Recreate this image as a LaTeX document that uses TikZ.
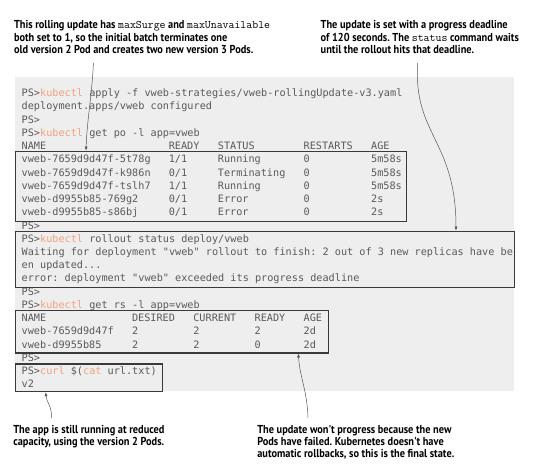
\documentclass[tikz,border=0pt]{standalone}
\usepackage{fontspec}
\usetikzlibrary{arrows.meta}
\newfontfamily\consfont{DejaVu Sans Mono}
\newfontfamily\callfont[FakeStretch=0.9]{PT Sans}
\definecolor{panelbg}{HTML}{EDEEED}
\definecolor{ctext}{HTML}{5A5A5A}
\definecolor{kcol}{HTML}{F2A27F}
\definecolor{boxcol}{HTML}{3A3A3A}
\definecolor{linecol}{HTML}{555555}
\frenchspacing
\tikzset{
  mono/.style={anchor=base west, inner sep=0pt, outer sep=0pt, font=\consfont\fontsize{10.2}{12}\selectfont, text=ctext},
  call/.style={anchor=base west, inner sep=0pt, outer sep=0pt, font=\callfont\bfseries\fontsize{11.5}{13}\selectfont, text=black},
  cbox/.style={draw=boxcol, line width=1.2pt, anchor=north west, inner sep=0pt},
  conn/.style={draw=linecol, line width=0.5pt, -{Latex[length=4pt,width=3pt]}},
}
\newcommand\kc[1]{\textcolor{kcol}{#1}}
\newcommand\cd[1]{{\ttfamily\mdseries\fontsize{11.5}{13}\selectfont #1}}
\newcommand\ml[4]{\node[mono] (#1) at ({21.7+6.13*(#2)},{96.6+13.24*(#3)}) {#4};}
\begin{document}
\begin{tikzpicture}[x=1pt,y=-1pt]
\useasboundingbox (0,0) rectangle (556,468);
% panel
\fill[panelbg] (15,77.3) rectangle (514,390.7);
% console text
\ml{l0}{0}{0}{PS>\kc{kubectl} apply -f vweb-strategies/vweb-rollingUpdate-v3.yaml}
\ml{l1}{0}{1}{deployment.apps/vweb configured}
\ml{l2}{0}{2}{PS>}
\ml{l3}{0}{3}{PS>\kc{kubectl} get po -l app=vweb}
\ml{h1a}{0}{4}{NAME}
\ml{h1b}{24}{4}{READY}
\ml{h1c}{32}{4}{STATUS}
\ml{h1d}{46}{4}{RESTARTS}
\ml{h1e}{57}{4}{AGE}
\ml{p1a}{0}{5}{vweb-7659d9d47f-5t78g}
\ml{p1b}{24}{5}{1/1}
\ml{p1c}{32}{5}{Running}
\ml{p1d}{46}{5}{0}
\ml{p1e}{57}{5}{5m58s}
\ml{p2a}{0}{6}{vweb-7659d9d47f-k986n}
\ml{p2b}{24}{6}{0/1}
\ml{p2c}{32}{6}{Terminating}
\ml{p2d}{46}{6}{0}
\ml{p2e}{57}{6}{5m58s}
\ml{p3a}{0}{7}{vweb-7659d9d47f-tslh7}
\ml{p3b}{24}{7}{1/1}
\ml{p3c}{32}{7}{Running}
\ml{p3d}{46}{7}{0}
\ml{p3e}{57}{7}{5m58s}
\ml{p4a}{0}{8}{vweb-d9955b85-769g2}
\ml{p4b}{24}{8}{0/1}
\ml{p4c}{32}{8}{Error}
\ml{p4d}{46}{8}{0}
\ml{p4e}{57}{8}{2s}
\ml{p5a}{0}{9}{vweb-d9955b85-s86bj}
\ml{p5b}{24}{9}{0/1}
\ml{p5c}{32}{9}{Error}
\ml{p5d}{46}{9}{0}
\ml{p5e}{57}{9}{2s}
\ml{l10}{0}{10}{PS>}
\ml{l11}{0}{11}{PS>\kc{kubectl} rollout status deploy/vweb}
\ml{l12}{0}{12}{Waiting for deployment "vweb" rollout to finish: 2 out of 3 new replicas have be}
\ml{l13}{0}{13}{en updated...}
\ml{l14}{0}{14}{error: deployment "vweb" exceeded its progress deadline}
\ml{l15}{0}{15}{PS>}
\ml{l16}{0}{16}{PS>\kc{kubectl} get rs -l app=vweb}
\ml{h2a}{0}{17}{NAME}
\ml{h2b}{18}{17}{DESIRED}
\ml{h2c}{28}{17}{CURRENT}
\ml{h2d}{38}{17}{READY}
\ml{h2e}{46}{17}{AGE}
\ml{r1a}{0}{18}{vweb-7659d9d47f}
\ml{r1b}{18}{18}{2}
\ml{r1c}{28}{18}{2}
\ml{r1d}{38}{18}{2}
\ml{r1e}{46}{18}{2d}
\ml{r2a}{0}{19}{vweb-d9955b85}
\ml{r2b}{18}{19}{2}
\ml{r2c}{28}{19}{2}
\ml{r2d}{38}{19}{0}
\ml{r2e}{46}{19}{2d}
\ml{l20}{0}{20}{PS>}
\ml{l21}{0}{21}{PS>\kc{curl} \$(\kc{cat} url.txt)}
\ml{l22}{0}{22}{v2}
% boxes
\node[cbox, minimum width=391pt, minimum height=70pt] (box1) at (15,150.7) {};
\node[cbox, minimum width=499pt, minimum height=56.3pt] (box2) at (15,230.7) {};
\node[cbox, minimum width=312.7pt, minimum height=42.3pt] (box3) at (15,310) {};
\node[cbox, minimum width=146.7pt, minimum height=27.7pt] (box4) at (15,363.3) {};
% callouts
\node[call] (tl1) at (14,29) {This rolling update has \cd{maxSurge} and \cd{maxUnavailable}};
\node[call] (tl2) at (14,41.5) {both set to 1, so the initial batch terminates one};
\node[call] (tl3) at (14,54) {old version 2 Pod and creates two new version 3 Pods.};
\node[call] (tr1) at (320.7,29) {The update is set with a progress deadline};
\node[call] (tr2) at (320.7,41.5) {of 120 seconds. The \cd{status} command waits};
\node[call] (tr3) at (320.7,54) {until the rollout hits that deadline.};
\node[call] (bl1) at (13.3,433) {The app is still running at reduced};
\node[call] (bl2) at (13.3,445.3) {capacity, using the version 2 Pods.};
\node[call] (br1) at (257.3,433) {The update won't progress because the new};
\node[call] (br2) at (257.3,445.3) {Pods have failed. Kubernetes doesn't have};
\node[call] (br3) at (257.3,457.6) {automatic rollbacks, so this is the final state.};
% connectors
\coordinate (s1) at (93.4,63);
\coordinate (s2) at (417.7,63);
\coordinate (s3) at (308,417.7);
\coordinate (s4) at (51.7,418);
\draw[conn] (s1) .. controls (92,95) and (87,120) .. ([xshift=71pt]box1.north west);
\draw[conn] (s2) .. controls (413,135) and (456,140) .. ([xshift=441pt]box2.north west);
\draw[conn] (s3) .. controls (307,390) and (300,378) .. ([xshift=283.3pt]box3.south west);
\draw[conn] (s4) .. controls (51.5,405) and (46.5,402) .. ([xshift=30.7pt]box4.south west);
\end{tikzpicture}
\end{document}
